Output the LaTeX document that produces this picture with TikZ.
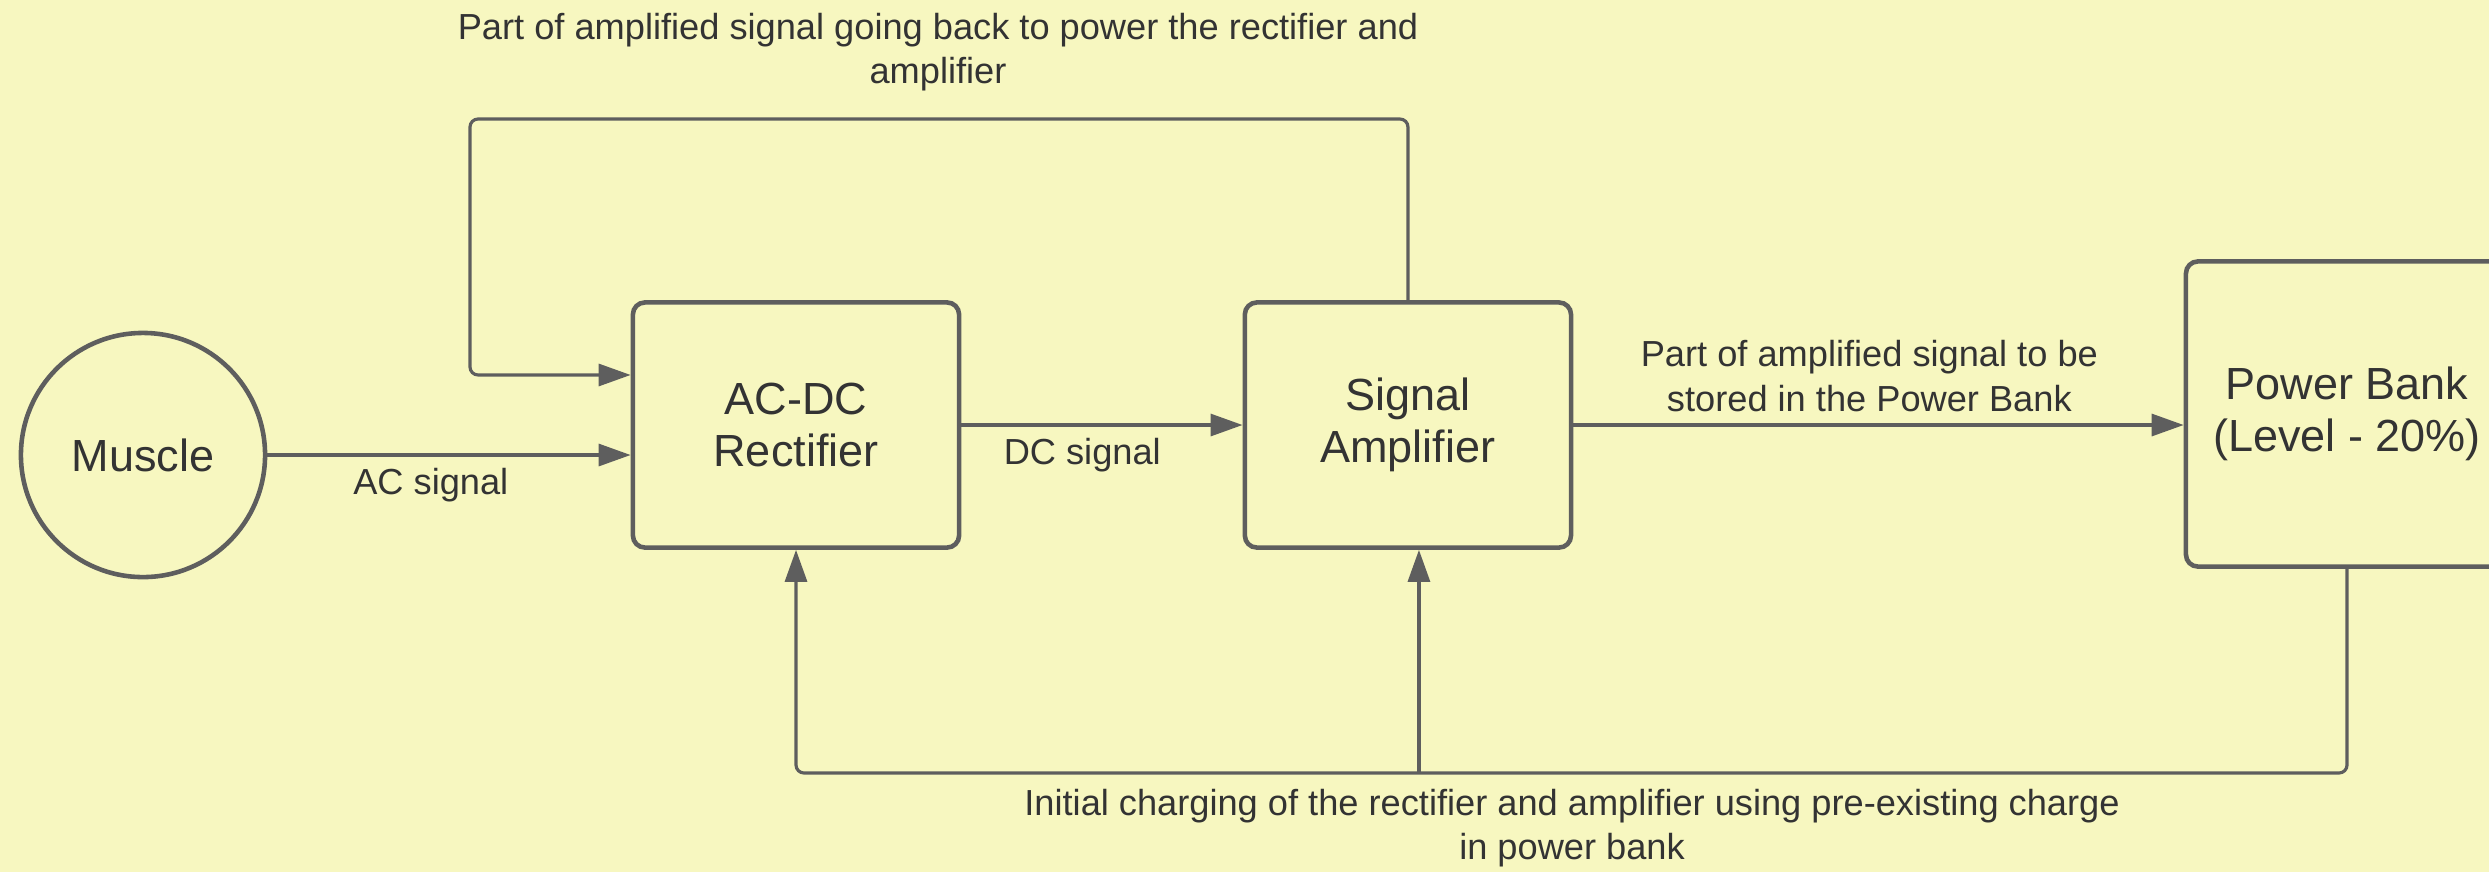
\documentclass[tikz,border=0pt]{standalone}
\usepackage{fontspec}
\setmainfont{Liberation Sans}
\usepackage{tikz}
\usetikzlibrary{arrows.meta, positioning, calc}
\definecolor{bgyellow}{RGB}{247, 247, 192}
\definecolor{linegray}{RGB}{94, 94, 94}
\definecolor{textgray}{RGB}{51, 51, 51}

\begin{document}
\begin{tikzpicture}[
        x=0.01cm, y=-0.01cm,
        font=\fontsize{10.3}{12.7}\selectfont,
        text=textgray,
        block/.style={draw=linegray, line width=1.3pt, rounded corners=0.12cm, minimum width=3.26cm, minimum height=2.45cm, align=center, font=\fontsize{12.8}{14.8}\selectfont},
        source/.style={draw=linegray, line width=1.3pt, circle, minimum size=2.44cm, inner sep=0pt, font=\fontsize{12.8}{14.8}\selectfont},
        note/.style={align=center},
        arr/.style={-{Triangle[length=0.32cm, width=0.22cm]}, draw=linegray, line width=0.9pt, rounded corners=0.08cm},
    ]
        % --- Canvas ---
        \path[fill=bgyellow, use as bounding box] (0,0) rectangle (2489,872);

        % --- Blocks ---
        \node[source] (muscle) at (143,455) {Muscle};
        \node[block] (rect) at (796,425) {AC-DC\\Rectifier};
        \node[block, right=2.81cm of rect] (amp) {Signal\\Amplifier};
        \node[block, minimum width=3.22cm, minimum height=3.05cm] (pbank) at (2347,414) {Power Bank\\(Level - 20\%)};

        % --- Free labels ---
        \node[note] (fbnote) at (938,52) {Part of amplified signal going back to power the rectifier and\\amplifier};
        \node[note] (chgnote) at (1572,828) {Initial charging of the rectifier and amplifier using pre-existing charge\\in power bank};

        % --- Forward signal path ---
        \draw[arr] (muscle) -- node[below, pos=0.45]{AC signal} (muscle -| rect.west);
        \draw[arr] (rect) -- node[below, pos=0.43]{DC signal} (amp);
        \draw[arr] (amp) -- node[note, above, pos=0.485]{Part of amplified signal to be\\stored in the Power Bank} (amp -| pbank.west);

        % --- Feedback from amplifier to rectifier ---
        \coordinate (fbtop) at (470,119);
        \draw[arr] (amp.north) |- (fbtop) |- ([yshift=0.5cm]rect.west);

        % --- Initial charging from power bank ---
        \coordinate (bus) at (0,773);
        \draw[arr] (pbank.south) |- (bus -| rect.south) -- (rect.south);
        \draw[arr] ([xshift=0.11cm]amp.south |- bus) -- ([xshift=0.11cm]amp.south);

    \end{tikzpicture}
\end{document}
